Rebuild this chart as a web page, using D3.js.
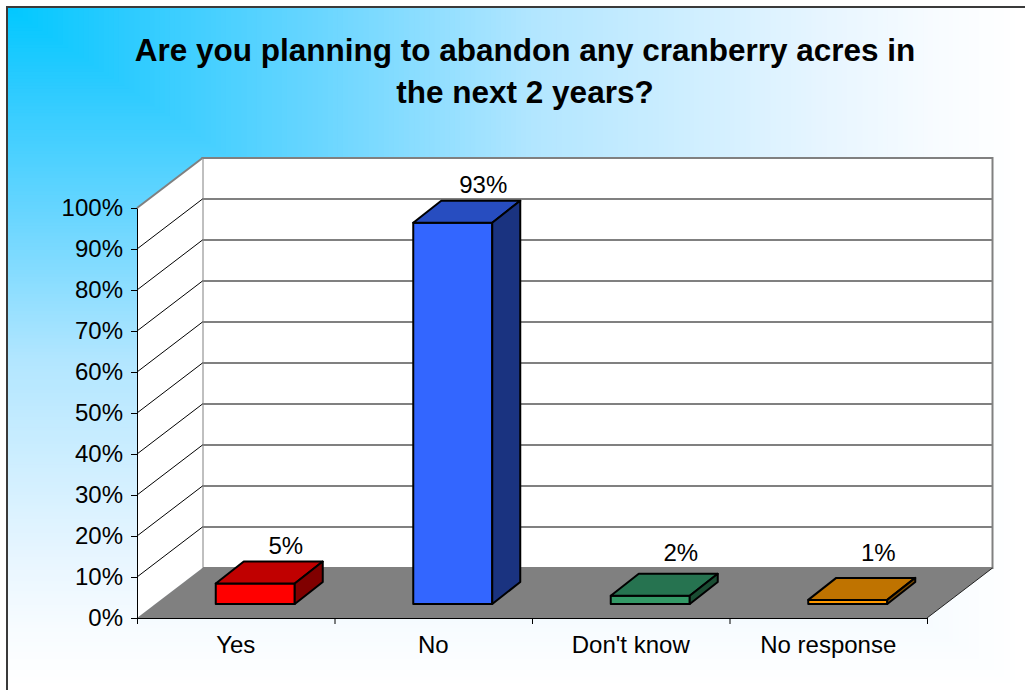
<!DOCTYPE html>
<html>
<head>
<meta charset="utf-8">
<script src="https://cdn.jsdelivr.net/npm/d3@7"></script>
<style>
  body { margin: 0; background: #fff; }
  svg { display: block; }
  text { font-family: "Liberation Sans", Arial, sans-serif; fill: #000; }
</style>
</head>
<body>
<svg id="chart" width="1025" height="690"></svg>
<script>
// ---- data ----
const titleLines = ["Are you planning to abandon any cranberry acres in", "the next 2 years?"];
const categories = ["Yes", "No", "Don't know", "No response"];
const values = [0.05, 0.93, 0.02, 0.01];
const valueLabels = ["5%", "93%", "2%", "1%"];
const tickValues = [0, 0.1, 0.2, 0.3, 0.4, 0.5, 0.6, 0.7, 0.8, 0.9, 1.0];
const frontColors = ["#ff0000", "#3366ff", "#339966", "#ff9900"];
const topColors   = ["#c00000", "#274dc0", "#267350", "#bf7300"];
const sideColors  = ["#800000", "#1a3380", "#1a4d33", "#804d00"];

// ---- layout ----
const svg = d3.select("#chart");
const plot = { left: 137, right: 927, bottom: 618, top: 208 };
const depth = { dx: 65.5, dy: 50 };       // floor depth (front edge -> back wall)
const barFront = { dx: 19.5, dy: 14 };    // bar front face offset into the floor
const barDepth = { dx: 28, dy: 22 };      // bar thickness in depth

const y = d3.scaleLinear().domain([0, 1]).range([plot.bottom, plot.top]);
const x = d3.scaleBand().domain(categories)
  .range([plot.left, plot.right]).paddingInner(0.6).paddingOuter(0.3);
const xEdge = d3.scaleLinear().domain([0, categories.length]).range([plot.left, plot.right]);

// ---- background: corner gradient ----
const bgColor = d3.scaleLinear()
  .domain([0, 0.12, 0.3, 0.52, 0.8, 0.92, 1])
  .range(["#00c8ff", "#2ccbff", "#66d5ff", "#b2e6ff", "#e6f5ff", "#f8fcff", "#ffffff"])
  .clamp(true);
const bgW = 1018, bgH = 683;
const steps = d3.range(1, 0, -0.005);
svg.append("g").selectAll("rect").data(steps).join("rect")
  .attr("x", 7).attr("y", 7)
  .attr("width", t => t * bgW).attr("height", t => t * bgH)
  .attr("fill", t => bgColor(t));
svg.append("rect").attr("x", 7).attr("y", 7).attr("width", 1040).attr("height", 700)
  .attr("fill", "none").attr("stroke", "#3a3a3a").attr("stroke-width", 2);

// ---- title ----
svg.append("g").selectAll("text").data(titleLines).join("text")
  .attr("x", 525).attr("y", (d, i) => 61 + i * 42)
  .attr("text-anchor", "middle")
  .style("font-size", "31.5px").style("font-weight", "bold")
  .text(d => d);

const pts = p => p.map(d => d.join(",")).join(" ");
const backX0 = plot.left + depth.dx, backX1 = plot.right + depth.dx;

// ---- walls ----
const walls = svg.append("g");
walls.append("rect")
  .attr("x", backX0).attr("y", y(1) - depth.dy)
  .attr("width", backX1 - backX0).attr("height", y(0) - y(1))
  .attr("fill", "#fff").attr("stroke", "#808080").attr("stroke-width", 2);
walls.append("polygon")
  .attr("points", pts([[plot.left, y(0)], [backX0, y(0) - depth.dy], [backX0, y(1) - depth.dy], [plot.left, y(1)]]))
  .attr("fill", "#fff");
walls.append("line")
  .attr("x1", plot.left).attr("y1", y(1)).attr("x2", backX0).attr("y2", y(1) - depth.dy)
  .attr("stroke", "#808080").attr("stroke-width", 2);

const inner = tickValues.filter(v => v > 0 && v < 1);
walls.append("g").selectAll("line").data(inner).join("line")
  .attr("x1", backX0).attr("x2", backX1)
  .attr("y1", v => y(v) - depth.dy).attr("y2", v => y(v) - depth.dy)
  .attr("stroke", "#808080").attr("stroke-width", 2);
walls.append("g").selectAll("line").data(inner).join("line")
  .attr("x1", plot.left).attr("y1", v => y(v))
  .attr("x2", backX0).attr("y2", v => y(v) - depth.dy)
  .attr("stroke", "#000").attr("stroke-width", 1);

// ---- floor ----
walls.append("polygon")
  .attr("points", pts([[plot.left, y(0)], [plot.right, y(0)], [backX1, y(0) - depth.dy], [backX0, y(0) - depth.dy]]))
  .attr("fill", "#808080");
walls.append("line")
  .attr("x1", plot.right).attr("y1", y(0)).attr("x2", backX1).attr("y2", y(0) - depth.dy)
  .attr("stroke", "#222").attr("stroke-width", 1);

// ---- bars ----
const bars = svg.append("g").attr("stroke", "#000").attr("stroke-width", 2).attr("stroke-linejoin", "round");
categories.forEach((c, i) => {
  const x0 = x(c) + barFront.dx, x1 = x0 + x.bandwidth();
  const yb = y(0) - barFront.dy;
  const yt = yb - (y(0) - y(values[i]));
  const g = bars.append("g");
  g.append("polygon").attr("fill", frontColors[i])
    .attr("points", pts([[x0, yt], [x1, yt], [x1, yb], [x0, yb]]));
  g.append("polygon").attr("fill", topColors[i])
    .attr("points", pts([[x0, yt], [x1, yt], [x1 + barDepth.dx, yt - barDepth.dy], [x0 + barDepth.dx, yt - barDepth.dy]]));
  g.append("polygon").attr("fill", sideColors[i])
    .attr("points", pts([[x1, yt], [x1 + barDepth.dx, yt - barDepth.dy], [x1 + barDepth.dx, yb - barDepth.dy], [x1, yb]]));

  const labelBase = Math.min(yt - barDepth.dy, y(0) - depth.dy) - 7.5;
  svg.append("text")
    .attr("x", (x0 + x1) / 2 + barDepth.dx + 2.5).attr("y", labelBase)
    .attr("text-anchor", "middle").style("font-size", "24px")
    .text(valueLabels[i]);
});

// ---- value axis ----
const yAxis = svg.append("g").attr("transform", `translate(${plot.left},0)`)
  .call(d3.axisLeft(y).tickValues(tickValues).tickFormat(d3.format(".0%"))
    .tickSize(6).tickSizeOuter(0).tickPadding(8));
yAxis.select(".domain").attr("stroke", "#000");
yAxis.selectAll(".tick line").attr("stroke", "#000");
yAxis.selectAll("text").style("font-size", "24px").style("font-family", '"Liberation Sans", Arial, sans-serif').attr("fill", "#000");

// ---- category axis ----
const xAxis = svg.append("g").attr("transform", `translate(0,${plot.bottom})`)
  .call(d3.axisBottom(xEdge).tickValues(d3.range(categories.length + 1))
    .tickFormat("").tickSize(6).tickSizeOuter(0));
xAxis.select(".domain").attr("stroke", "#000");
xAxis.selectAll(".tick line").attr("stroke", "#000");

svg.append("g").selectAll("text").data(categories).join("text")
  .attr("x", c => x(c) + x.bandwidth() / 2).attr("y", 653)
  .attr("text-anchor", "middle").style("font-size", "24px")
  .text(c => c);
</script>
</body>
</html>
